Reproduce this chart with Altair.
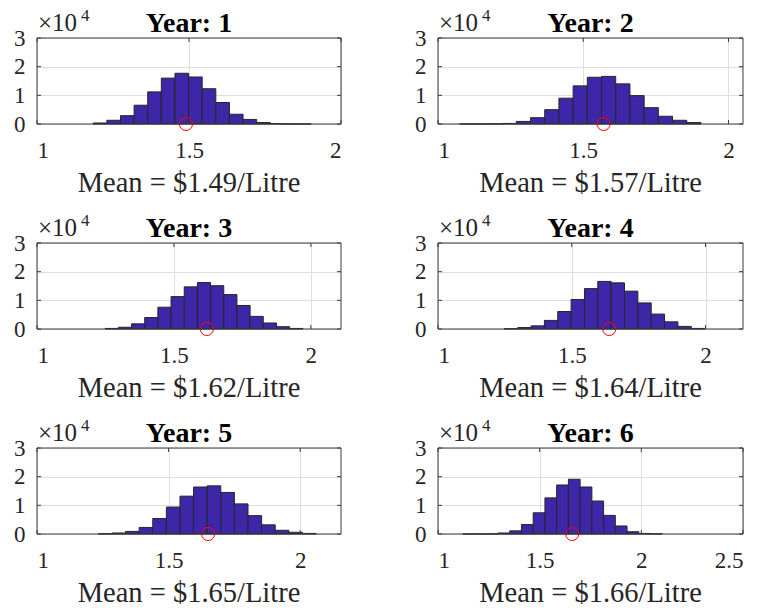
import altair as alt
import pandas as pd

# Simulated fuel price distribution per year (count of simulations per price bin)
years = [1, 2, 3, 4, 5, 6]
means = [1.49, 1.57, 1.62, 1.64, 1.65, 1.66]

# first bin edge and bin width ($/Litre) of each year's histogram
bin_start = [1.185, 1.074, 1.249, 1.248, 1.233, 1.122]
bin_width = [0.0448, 0.0489, 0.0481, 0.0499, 0.0517, 0.0577]

counts_y1 = [350, 1300, 2900, 6550, 11200, 16000, 17700, 16400, 12300, 7500, 3400, 1600, 500, 120, 40, 10]
counts_y2 = [10, 20, 60, 200, 900, 2200, 5000, 9000, 13300, 16300, 16600, 14000, 9900, 5700, 2700, 1300, 500]
counts_y3 = [200, 600, 1800, 4000, 7600, 11300, 14700, 16200, 15100, 12000, 8200, 4400, 2100, 800, 200]
counts_y4 = [100, 500, 1100, 3000, 6100, 10300, 14100, 16600, 16100, 13200, 9100, 5200, 2500, 900, 200]
counts_y5 = [100, 350, 900, 2300, 5400, 9400, 13200, 16400, 16800, 14500, 10500, 6400, 3200, 1300, 600, 200]
counts_y6 = [10, 20, 50, 350, 1100, 3300, 7400, 12600, 17100, 19100, 16400, 11500, 6500, 2800, 800, 200, 50]
all_counts = [counts_y1, counts_y2, counts_y3, counts_y4, counts_y5, counts_y6]

x_max = [2.0, 2.05, 2.11, 2.14, 2.155, 2.5]
x_ticks = [[1, 1.5, 2]] * 5 + [[1, 1.5, 2, 2.5]]
y_ticks = [0, 10000, 20000, 30000]

FONT = "Liberation Serif"
BAR = "#3e26a8"
AXIS_C = "#3a3a3a"
PANEL_H = 86
TICK_LEN = 4


def panel(k):
    w = 304 if k % 2 == 0 else 305
    c = all_counts[k]
    lo = [bin_start[k] + i * bin_width[k] for i in range(len(c))]
    hi = [v + bin_width[k] for v in lo]
    hist = pd.DataFrame({"lo": lo, "hi": hi, "count": c})
    info = pd.DataFrame({
        "mean": [means[k]],
        "zero": [0],
        "title": [f"Year: {years[k]}"],
        "label": [f"Mean = ${means[k]:.2f}/Litre"],
    })
    xt = pd.DataFrame({"v": x_ticks[k]})
    yt = pd.DataFrame({"v": y_ticks})

    xs = alt.Scale(domain=[1, x_max[k]], nice=False, zero=False)
    ys = alt.Scale(domain=[0, 30000], nice=False)
    # one shared axis definition per channel so the layers merge cleanly
    x_axis = alt.Axis(values=x_ticks[k], format="~g", title=None,
                      labelPadding=15, labelOverlap=False)
    y_axis = alt.Axis(values=y_ticks, labelExpr="datum.value / 10000",
                      title=None, labelPadding=12, labelOverlap=False)

    def X(field):
        return alt.X(field, scale=xs, axis=x_axis)

    def Y(field):
        return alt.Y(field, scale=ys, axis=y_axis)

    bars = alt.Chart(hist).mark_rect(
        fill=BAR, stroke="#262626", strokeWidth=1
    ).encode(x=X("lo:Q"), x2="hi:Q", y=Y("count:Q"), y2=alt.datum(0))

    marker = alt.Chart(info).mark_point(
        shape="circle", filled=False, color="#ff0000", size=170,
        strokeWidth=1, clip=False, opacity=1
    ).encode(x=X("mean:Q"), y=Y("zero:Q"))

    # inward tick marks on all four sides of the box
    tick_style = dict(color=AXIS_C, strokeWidth=1)
    xt_bottom = alt.Chart(xt).mark_rule(**tick_style).encode(
        x=X("v:Q"), y=alt.value(PANEL_H), y2=alt.value(PANEL_H - TICK_LEN))
    xt_top = alt.Chart(xt).mark_rule(**tick_style).encode(
        x=X("v:Q"), y=alt.value(0), y2=alt.value(TICK_LEN))
    yt_left = alt.Chart(yt).mark_rule(**tick_style).encode(
        y=Y("v:Q"), x=alt.value(0), x2=alt.value(TICK_LEN))
    yt_right = alt.Chart(yt).mark_rule(**tick_style).encode(
        y=Y("v:Q"), x=alt.value(w), x2=alt.value(w - TICK_LEN))

    frame = alt.Chart(info).mark_rect(
        fill=None, stroke=AXIS_C, strokeWidth=1
    ).encode(x=alt.value(0), x2=alt.value(w), y=alt.value(0), y2=alt.value(PANEL_H))

    title = alt.Chart(info).mark_text(
        font=FONT, fontSize=28, fontWeight="bold", color="#000000",
        align="center", baseline="alphabetic"
    ).encode(x=alt.value(w / 2), y=alt.value(-6), text="title:N")

    xlabel = alt.Chart(info).mark_text(
        font=FONT, fontSize=28.5, color="#262626",
        align="center", baseline="alphabetic"
    ).encode(x=alt.value(w / 2), y=alt.value(PANEL_H + 68), text="label:N")

    exp_base = alt.Chart(info).mark_text(
        text="×10", font=FONT, fontSize=25, color="#262626",
        align="left", baseline="alphabetic"
    ).encode(x=alt.value(1), y=alt.value(-7))

    exp_pow = alt.Chart(info).mark_text(
        text="4", font=FONT, fontSize=17, color="#262626",
        align="left", baseline="alphabetic"
    ).encode(x=alt.value(44), y=alt.value(-17))

    return alt.layer(
        bars, marker, xt_bottom, xt_top, yt_left, yt_right, frame,
        title, xlabel, exp_base, exp_pow
    ).properties(width=w, height=PANEL_H)


chart = alt.concat(
    *[panel(k) for k in range(6)],
    columns=2,
    spacing={"row": 119, "column": 97},
    bounds="flush",
).properties(
    padding={"left": 13, "top": 7, "right": 0, "bottom": 0},
    background="#ffffff",
).configure_view(
    stroke=None
).configure_axis(
    domain=False, ticks=False,
    grid=True, gridColor="#dedede", gridWidth=1,
    labelFont=FONT, labelFontSize=23, labelColor="#262626",
)

chart.save("out.html", embed_options={"renderer": "svg", "actions": False})
